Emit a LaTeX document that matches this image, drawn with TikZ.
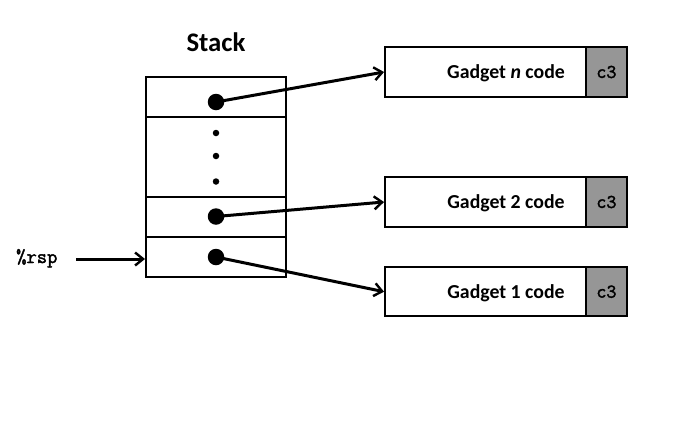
\documentclass[tikz,border=0pt]{standalone}
\usepackage{fontspec}
\setmainfont{Carlito}
\newfontfamily\heavymonofam[FakeBold=2]{Latin Modern Mono}
\usetikzlibrary{arrows.meta}
\definecolor{cgrey}{RGB}{150,150,150}
\newcommand{\heavymono}{\heavymonofam}
\begin{document}
\begin{tikzpicture}[x=1pt,y=-1pt,
  cell/.style={draw,line width=2pt,rectangle,inner sep=0pt,minimum width=140pt},
  gbox/.style={draw,line width=2pt,rectangle,inner sep=0pt,minimum width=241.7pt,minimum height=49.4pt},
  gret/.style={draw,line width=2pt,rectangle,fill=cgrey,inner sep=0pt,minimum width=40.7pt,minimum height=49.4pt,font=\heavymono\fontsize{19.5}{19.5}\selectfont},
  gtext/.style={font=\bfseries\fontsize{19.8}{19.8}\selectfont},
  bigdot/.style={circle,fill=black,inner sep=0pt,minimum size=16.5pt},
  smalldot/.style={circle,fill=black,inner sep=0pt,minimum size=6.5pt},
  ptr/.style={line width=3pt,-{Straight Barb[length=8pt,width=13pt,line width=2.4pt]}}
]
\useasboundingbox (0,0) rectangle (684,445);
% title
\node[font=\bfseries\fontsize{26.8}{26.8}\selectfont] (title) at (216,42) {Stack};
% stack cells
\node[cell,minimum height=40pt] (cellN) at (216,97) {};
\node[cell,minimum height=80pt] (cellD) at (216,157) {};
\node[cell,minimum height=40pt] (cell2) at (216,217) {};
\node[cell,minimum height=40pt] (cell1) at (216,257) {};
% dots
\node[bigdot] (dN) at (216,102) {};
\node[bigdot] (d2) at (216,216.5) {};
\node[bigdot] (d1) at (216,257) {};
\node[smalldot] (s1) at (216,133) {};
\node[smalldot] (s2) at (216,156) {};
\node[smalldot] (s3) at (216,181.5) {};
% gadget boxes
\node[gbox] (gN) at (505.9,72) {};
\node[gret] (rN) at (606.4,72) {c3};
\node[gtext] (tN) at (506,73) {Gadget \textit{n} code};
\node[gbox] (g2) at (505.9,202) {};
\node[gret] (r2) at (606.4,202) {c3};
\node[gtext] (t2) at (506,203) {Gadget 2 code};
\node[gbox] (g1) at (505.9,291.7) {};
\node[gret] (r1) at (606.4,291.7) {c3};
\node[gtext] (t1) at (506,293) {Gadget 1 code};
% pointers
\draw[ptr] (dN.center) -- (gN.west);
\draw[ptr] (d2.center) -- (g2.west);
\draw[ptr] (d1.center) -- (g1.west);
% rsp
\node[font=\heavymono\fontsize{20}{20}\selectfont,anchor=base west,inner sep=0pt] (rsp) at (16,263) {\%rsp};
\coordinate (rspend) at (76,259);
\draw[ptr] (rspend) -- (cell1.west |- rspend);
\end{tikzpicture}
\end{document}
